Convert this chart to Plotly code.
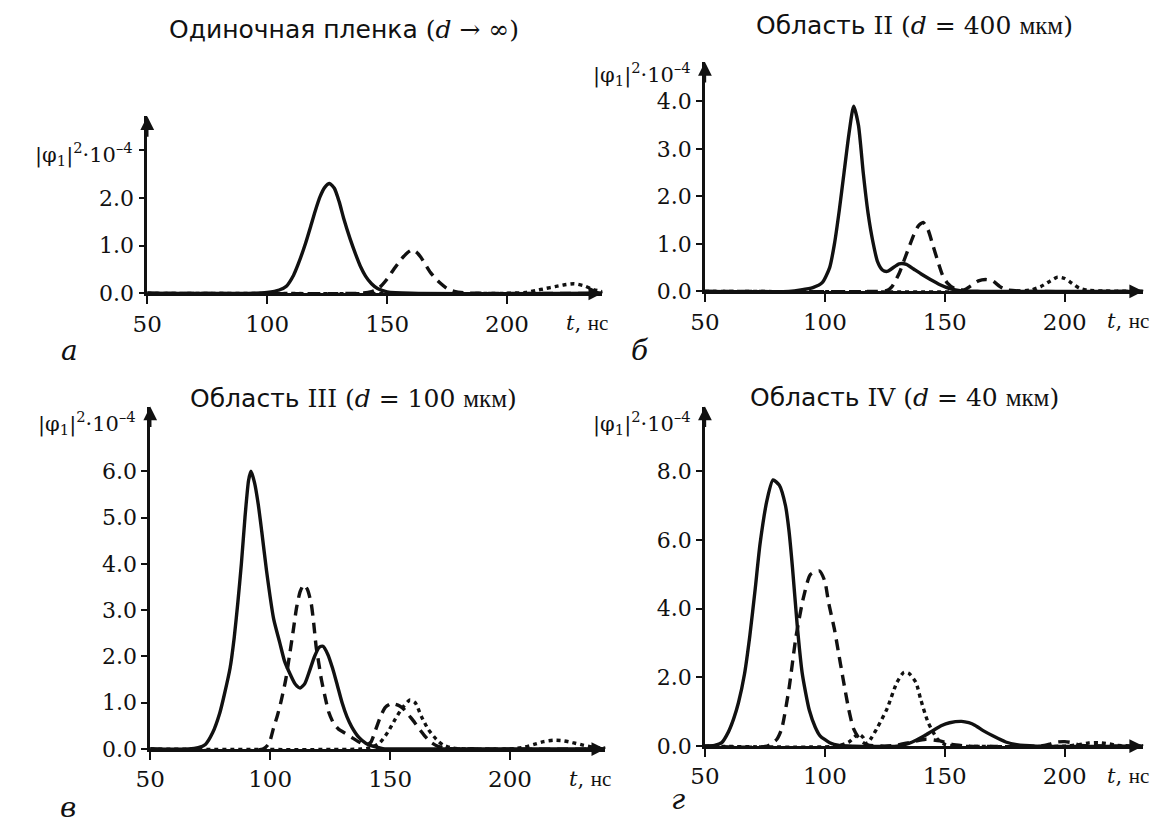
import plotly.graph_objects as go

# ---------------- data ----------------
# Panel а: single film (d -> inf)
t_a_solid = [50, 95, 100, 105, 108, 111, 113, 116, 118, 120, 122, 124, 126, 128, 130, 132, 134.5, 137, 139, 141, 143.5, 146, 150, 160, 240]
y_a_solid = [0, 0, 0.02, 0.07, 0.15, 0.38, 0.62, 1.05, 1.38, 1.72, 2.02, 2.22, 2.3, 2.2, 1.92, 1.55, 1.15, 0.8, 0.55, 0.36, 0.2, 0.1, 0.03, 0, 0]
t_a_dash = [50, 138, 142, 144.5, 147, 150, 153, 156, 158, 160, 162, 164, 166, 168, 170, 172, 175, 178, 182, 190, 240]
y_a_dash = [0, 0, 0.02, 0.05, 0.13, 0.3, 0.52, 0.72, 0.83, 0.9, 0.87, 0.76, 0.6, 0.44, 0.32, 0.22, 0.1, 0.04, 0.01, 0, 0]
t_a_dot = [50, 200, 208, 212, 216, 220, 224, 228, 232, 236, 240]
y_a_dot = [0, 0, 0.02, 0.06, 0.1, 0.14, 0.18, 0.2, 0.16, 0.08, 0.03]

# Panel б: region II (d = 400 um)
t_b_solid = [50, 85, 90, 95, 99, 102, 104, 106, 108, 110, 112, 114, 116, 118, 120, 122, 124, 126, 128, 131, 134, 137, 140, 144, 148, 152, 157, 165, 240]
y_b_solid = [0, 0, 0.03, 0.08, 0.19, 0.5, 1.0, 1.7, 2.5, 3.3, 3.9, 3.5, 2.5, 1.65, 1.05, 0.62, 0.45, 0.42, 0.48, 0.58, 0.57, 0.47, 0.37, 0.25, 0.14, 0.06, 0.01, 0, 0]
t_b_dash = [50, 122, 126, 128, 131, 133, 135, 137, 139, 141, 143, 145, 147, 149, 151, 154, 158, 161, 164, 167, 170, 173, 176, 185, 240]
y_b_dash = [0, 0, 0.02, 0.1, 0.38, 0.65, 0.92, 1.18, 1.38, 1.45, 1.3, 0.98, 0.65, 0.35, 0.18, 0.06, 0.03, 0.12, 0.22, 0.25, 0.22, 0.1, 0.03, 0, 0]
t_b_dot = [50, 180, 186, 190, 194, 197, 200, 203, 206, 210, 240]
y_b_dot = [0, 0, 0.03, 0.1, 0.22, 0.3, 0.27, 0.17, 0.07, 0.02, 0]

# Panel в: region III (d = 100 um)
t_c_solid = [50, 66, 70, 73, 76, 79, 81, 83.3, 85, 86.5, 88, 89.5, 91, 92, 93.5, 95, 96.5, 98.5, 101.5, 104, 106, 108.5, 110.5, 112.5, 114.5, 116.5, 118.5, 120.5, 122, 124, 126, 128, 130, 132, 134, 137, 140, 143.5, 147, 155, 240]
y_c_solid = [0, 0, 0.03, 0.1, 0.35, 0.78, 1.2, 1.75, 2.4, 3.15, 4.0, 5.0, 5.8, 6.0, 5.75, 5.3, 4.7, 3.85, 2.8, 2.3, 1.9, 1.6, 1.4, 1.32, 1.42, 1.7, 2.0, 2.2, 2.22, 2.05, 1.75, 1.38, 1.0, 0.7, 0.48, 0.25, 0.12, 0.05, 0.01, 0, 0]
t_c_dash = [50, 97, 99.5, 101.4, 103, 104.5, 106.5, 108, 109.6, 111, 112.5, 114, 115.5, 117.1, 118.2, 119.2, 120.3, 121.3, 122.8, 124.4, 126.5, 128.5, 131, 134, 137.5, 140, 142, 144, 146, 148, 150, 152, 154, 156, 158, 160.3, 163, 165, 167.2, 170, 175, 185, 240]
y_c_dash = [0, 0, 0.12, 0.45, 0.72, 1.02, 1.5, 2.0, 2.55, 3.05, 3.4, 3.55, 3.45, 3.15, 2.7, 2.2, 1.85, 1.52, 1.15, 0.8, 0.55, 0.43, 0.35, 0.25, 0.14, 0.08, 0.15, 0.42, 0.7, 0.9, 0.97, 0.97, 0.93, 0.85, 0.72, 0.57, 0.38, 0.25, 0.14, 0.06, 0.01, 0, 0]
t_c_dot = [50, 138, 142, 145.8, 149, 152.1, 155, 158.3, 160.5, 163.1, 166, 169.3, 172, 176, 185, 200, 206, 210, 214, 218, 222, 226, 230, 235, 240]
y_c_dot = [0, 0, 0.03, 0.14, 0.36, 0.64, 0.88, 1.06, 1.0, 0.7, 0.42, 0.21, 0.09, 0.02, 0, 0, 0.04, 0.1, 0.16, 0.19, 0.18, 0.14, 0.09, 0.04, 0.02]

# Panel г: region IV (d = 40 um)
t_d_solid = [50, 54, 57, 59.7, 62, 64, 66.5, 68.7, 71, 73, 76, 78.4, 81, 83.6, 85, 86.5, 88.5, 90.5, 92, 93.5, 96, 98, 102, 106, 112, 130, 135, 138, 141.5, 145, 148.7, 152, 157, 160, 162.7, 166, 170, 175.4, 180, 188, 240]
y_d_solid = [0, 0.02, 0.1, 0.4, 0.8, 1.27, 2.1, 3.2, 4.6, 5.9, 7.2, 7.75, 7.6, 7.0, 6.3, 5.2, 3.5, 2.15, 1.55, 1.05, 0.55, 0.3, 0.1, 0.02, 0, 0, 0.08, 0.17, 0.3, 0.45, 0.6, 0.68, 0.72, 0.68, 0.6, 0.45, 0.3, 0.12, 0.04, 0, 0]
t_d_dash = [50, 76, 80, 82, 85, 88, 91, 94, 97.8, 100, 101.5, 104, 105.5, 107.5, 110, 112, 115, 118, 125, 130, 135, 142, 148, 153, 160, 190, 194, 197, 200, 203, 206, 240]
y_d_dash = [0, 0, 0.2, 0.5, 1.65, 3.2, 4.3, 5.0, 5.1, 4.8, 4.2, 3.4, 2.8, 2.0, 1.05, 0.5, 0.15, 0.03, 0, 0.03, 0.1, 0.2, 0.15, 0.05, 0, 0, 0.06, 0.12, 0.13, 0.1, 0.03, 0]
t_d_dot = [50, 105, 110, 114, 116, 117.5, 119.5, 122, 126, 130, 133, 135, 138, 140, 143, 147, 150, 155, 200, 206, 210, 214, 218, 222, 240]
y_d_dot = [0, 0, 0.12, 0.35, 0.25, 0.06, 0.25, 0.55, 1.1, 1.85, 2.15, 2.12, 1.85, 1.35, 0.7, 0.2, 0.05, 0, 0, 0.04, 0.09, 0.1, 0.07, 0.02, 0]

# tick values / labels
x_ticks = [50, 100, 150, 200]
x_ticktext = ["50", "100", "150", "200"]
y_ticks_a = [0, 1, 2, 3]
y_ticktext_a = ["0.0", "1.0", "2.0", ""]
y_ticks_b = [0, 1, 2, 3, 4]
y_ticktext_b = ["0.0", "1.0", "2.0", "3.0", "4.0"]
y_ticks_c = [0, 1, 2, 3, 4, 5, 6]
y_ticktext_c = ["0.0", "1.0", "2.0", "3.0", "4.0", "5.0", "6.0"]
y_ticks_d = [0, 2, 4, 6, 8]
y_ticktext_d = ["0.0", "2.0", "4.0", "6.0", "8.0"]

SER = '<span style="font-family:DejaVu Serif">'
LIB = '<span style="font-family:Liberation Serif">'
titles = [
    'Одиночная пленка ' + SER + '(<i>d</i> → ∞)</span>',
    'Область ' + SER + 'II (<i>d</i> = 400 </span>' + LIB + 'мкм</span>' + SER + ')</span>',
    'Область ' + SER + 'III (<i>d</i> = 100 </span>' + LIB + 'мкм</span>' + SER + ')</span>',
    'Область ' + SER + 'IV (<i>d</i> = 40 </span>' + LIB + 'мкм</span>' + SER + ')</span>',
]
letters = ["а", "б", "в", "г"]
ylabel = "|φ<sub>1</sub>|<sup>2</sup>·10<sup>–4</sup>"
xlabel = '<i>t</i>, ' + LIB + 'нс</span>'

# ---------------- layout geometry (pixels) ----------------
W, H = 1155, 828
def fx(p):
    return p / W
def fy(p):
    return 1 - p / H

panels = [
    dict(x0=134, x1=595, ytop=118, ybot=298, xr=[50, 239.7], yr=[0, 3.71],
         tv=y_ticks_a, tt=y_ticktext_a,
         data=[(t_a_solid, y_a_solid), (t_a_dash, y_a_dash), (t_a_dot, y_a_dot)],
         title=(333, 30), letter=(55, 356), ylab=(122, 156)),
    dict(x0=699, x1=1143, ytop=63, ybot=296, xr=[50, 232.7], yr=[0, 4.83],
         tv=y_ticks_b, tt=y_ticktext_b,
         data=[(t_b_solid, y_b_solid), (t_b_dash, y_b_dash), (t_b_dot, y_b_dot)],
         title=(911, 26), letter=(633, 356), ylab=(687, 75)),
    dict(x0=137, x1=598, ytop=413, ybot=761, xr=[50, 239.7], yr=[0, 7.4],
         tv=y_ticks_c, tt=y_ticktext_c,
         data=[(t_c_solid, y_c_solid), (t_c_dash, y_c_dash), (t_c_dot, y_c_dot)],
         title=(343, 405), letter=(54, 820), ylab=(125, 430)),
    dict(x0=699, x1=1143, ytop=413, ybot=758, xr=[50, 232.7], yr=[0, 9.89],
         tv=y_ticks_d, tt=y_ticktext_d,
         data=[(t_d_solid, y_d_solid), (t_d_dash, y_d_dash), (t_d_dot, y_d_dot)],
         title=(901, 404), letter=(672, 812), ylab=(687, 430)),
]

dashes = ["solid", "11px,7px", "4px,4px"]
INK = "#111111"
SERIF = "DejaVu Serif"
SANS = "DejaVu Sans"

fig = go.Figure()
annotations = []
layout = {}

for i, p in enumerate(panels):
    n = "" if i == 0 else str(i + 1)
    xa, ya = "x" + n, "y" + n
    for (t, y), dsh in zip(p["data"], dashes):
        fig.add_trace(go.Scatter(
            x=t, y=y, xaxis=xa, yaxis=ya, mode="lines",
            line=dict(color=INK, width=3.4, dash=dsh, shape="spline", smoothing=0.6),
            showlegend=False, hoverinfo="skip", cliponaxis=False))
    layout["xaxis" + n] = dict(
        domain=[fx(p["x0"]), fx(p["x1"])], range=p["xr"], anchor=ya,
        showgrid=False, zeroline=False, showline=True, linecolor=INK, linewidth=2.5,
        ticks="outside", ticklen=8, tickwidth=2, tickcolor=INK,
        tickvals=x_ticks, ticktext=x_ticktext,
        tickfont=dict(family=SERIF, size=23, color=INK), fixedrange=True)
    layout["yaxis" + n] = dict(
        domain=[fy(p["ybot"]), fy(p["ytop"])], range=p["yr"], anchor=xa,
        showgrid=False, zeroline=False, showline=True, linecolor=INK, linewidth=2.5,
        ticks="outside", ticklen=6, tickwidth=2, tickcolor=INK,
        tickvals=p["tv"], ticktext=p["tt"],
        tickfont=dict(family=SERIF, size=22, color=INK), fixedrange=True)
    # axis arrows
    annotations.append(dict(xref=xa + " domain", yref=ya + " domain", x=1, y=0,
                            ax=-22, ay=0, axref="pixel", ayref="pixel", text="",
                            showarrow=True, arrowhead=2, arrowsize=1.1, arrowwidth=2.5,
                            arrowcolor=INK))
    annotations.append(dict(xref=xa + " domain", yref=ya + " domain", x=0, y=1,
                            ax=0, ay=22, axref="pixel", ayref="pixel", text="",
                            showarrow=True, arrowhead=2, arrowsize=1.1, arrowwidth=2.5,
                            arrowcolor=INK))
    # title
    annotations.append(dict(xref="paper", yref="paper", x=fx(p["title"][0]), y=fy(p["title"][1]),
                            text=titles[i], showarrow=False, xanchor="center", yanchor="middle",
                            font=dict(family=SANS, size=25, color=INK)))
    # y label
    annotations.append(dict(xref="paper", yref="paper", x=fx(p["ylab"][0]), y=fy(p["ylab"][1]),
                            text=ylabel, showarrow=False, xanchor="right", yanchor="middle",
                            font=dict(family=SERIF, size=21, color=INK)))
    # x label
    annotations.append(dict(xref=xa + " domain", yref=ya + " domain", x=1, y=0,
                            xshift=8, yshift=-30, text=xlabel, showarrow=False,
                            xanchor="right", yanchor="middle",
                            font=dict(family=SERIF, size=21, color=INK)))
    # panel letter
    annotations.append(dict(xref="paper", yref="paper", x=fx(p["letter"][0]), y=fy(p["letter"][1]),
                            text="<i>" + letters[i] + "</i>", showarrow=False,
                            xanchor="center", yanchor="middle",
                            font=dict(family=SERIF, size=28, color=INK)))

fig.update_layout(
    width=W, height=H, margin=dict(l=0, r=0, t=0, b=0),
    paper_bgcolor="white", plot_bgcolor="white",
    annotations=annotations, **layout)

fig.write_html("out.html")
